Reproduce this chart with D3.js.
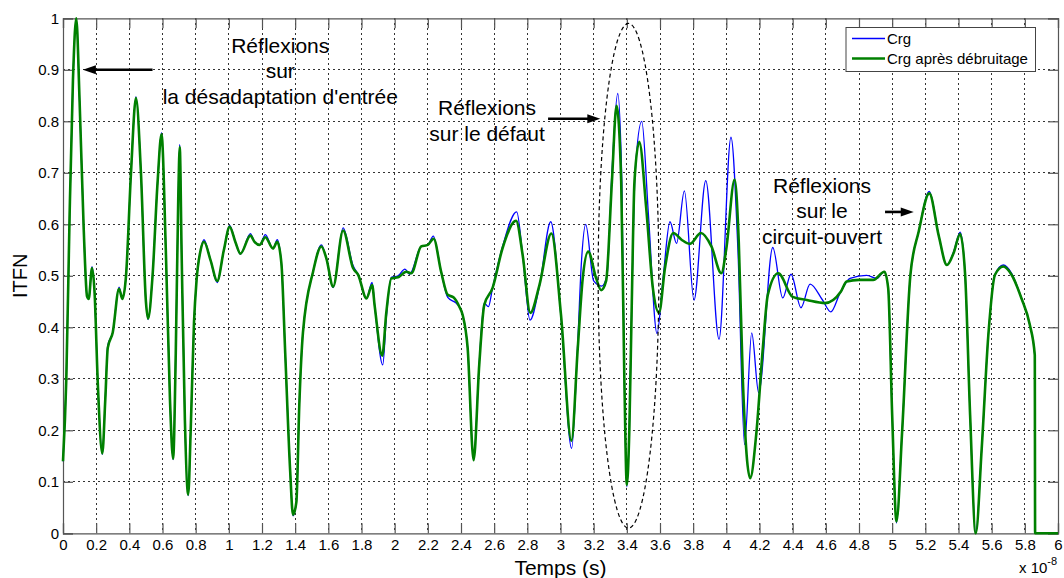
<!DOCTYPE html>
<html>
<head>
<meta charset="utf-8">
<script src="https://cdn.jsdelivr.net/npm/d3@7"></script>
<style>
  body { margin: 0; background: #fff; }
  svg { display: block; font-family: "Liberation Sans", Arial, sans-serif; }
</style>
</head>
<body>
<svg id="chart" width="1064" height="578"></svg>
<script>
// time in units of 1e-8 s, ITFN value
var crgDenoised = [
  [0, 0.14], [0.02, 0.30], [0.04, 0.62], [0.06, 0.88], [0.08, 1.0], [0.10, 0.84],
  [0.125, 0.59], [0.145, 0.46], [0.155, 0.455], [0.175, 0.515], [0.19, 0.47], [0.21, 0.29],
  [0.237, 0.155], [0.255, 0.26], [0.27, 0.36], [0.30, 0.39], [0.338, 0.475], [0.358, 0.455],
  [0.38, 0.50], [0.41, 0.70], [0.44, 0.845], [0.47, 0.70], [0.50, 0.45], [0.513, 0.417],
  [0.54, 0.50], [0.57, 0.68], [0.594, 0.775], [0.62, 0.55], [0.645, 0.26], [0.664, 0.145],
  [0.68, 0.35], [0.695, 0.65], [0.704, 0.75], [0.715, 0.55], [0.735, 0.22], [0.755, 0.075],
  [0.77, 0.20], [0.79, 0.41], [0.805, 0.49], [0.83, 0.55], [0.85, 0.566], [0.89, 0.53],
  [0.93, 0.49], [0.97, 0.55], [1.005, 0.595], [1.04, 0.565], [1.07, 0.543], [1.13, 0.578],
  [1.155, 0.566], [1.186, 0.56], [1.22, 0.575], [1.266, 0.553], [1.292, 0.566], [1.317, 0.524],
  [1.34, 0.35], [1.37, 0.12], [1.387, 0.036], [1.407, 0.06], [1.425, 0.25], [1.447, 0.39],
  [1.508, 0.508], [1.558, 0.557], [1.588, 0.534], [1.629, 0.479], [1.689, 0.588], [1.749, 0.515],
  [1.78, 0.502], [1.83, 0.456], [1.864, 0.482], [1.88, 0.44], [1.925, 0.345], [1.95, 0.43],
  [1.98, 0.495], [2.02, 0.497], [2.07, 0.508], [2.10, 0.505], [2.16, 0.557], [2.20, 0.56],
  [2.235, 0.572], [2.28, 0.508], [2.32, 0.463], [2.356, 0.458], [2.39, 0.44], [2.41, 0.424],
  [2.44, 0.36], [2.476, 0.142], [2.51, 0.327], [2.54, 0.443], [2.59, 0.476], [2.65, 0.553],
  [2.732, 0.607], [2.772, 0.54], [2.818, 0.428], [2.873, 0.482], [2.945, 0.582], [3.003, 0.424],
  [3.066, 0.18], [3.104, 0.359], [3.134, 0.495], [3.167, 0.547], [3.215, 0.495], [3.245, 0.472],
  [3.275, 0.49], [3.31, 0.683], [3.338, 0.83], [3.366, 0.683], [3.385, 0.30], [3.40, 0.094],
  [3.415, 0.20], [3.43, 0.45], [3.446, 0.683], [3.475, 0.76], [3.517, 0.631], [3.557, 0.476],
  [3.594, 0.428], [3.63, 0.515], [3.68, 0.583], [3.73, 0.57], [3.78, 0.562], [3.847, 0.583],
  [3.91, 0.557], [3.97, 0.505], [4.0, 0.553], [4.05, 0.687], [4.075, 0.566], [4.10, 0.294],
  [4.144, 0.107], [4.18, 0.191], [4.22, 0.359], [4.25, 0.463], [4.313, 0.505], [4.40, 0.459],
  [4.485, 0.453], [4.595, 0.447], [4.69, 0.469], [4.726, 0.489], [4.80, 0.492], [4.886, 0.492],
  [4.953, 0.508], [4.976, 0.476], [5.0, 0.23], [5.026, 0.023], [5.06, 0.197], [5.11, 0.502],
  [5.16, 0.586], [5.224, 0.66], [5.28, 0.579], [5.33, 0.521], [5.37, 0.544], [5.41, 0.581],
  [5.44, 0.502], [5.47, 0.23], [5.504, 0.0], [5.54, 0.165], [5.58, 0.385], [5.62, 0.502],
  [5.67, 0.518], [5.72, 0.502], [5.78, 0.456], [5.83, 0.405], [5.86, 0.346], [5.862, 0.0],
  [6.0, 0.0]
]

var crgRaw = [
  [0, 0.14], [0.02, 0.30], [0.04, 0.62], [0.06, 0.88], [0.08, 1.0], [0.10, 0.84],
  [0.125, 0.59], [0.145, 0.46], [0.155, 0.455], [0.175, 0.518], [0.19, 0.47], [0.21, 0.29],
  [0.237, 0.153], [0.255, 0.26], [0.27, 0.365], [0.30, 0.39], [0.338, 0.478], [0.358, 0.455],
  [0.38, 0.50], [0.41, 0.70], [0.44, 0.848], [0.47, 0.70], [0.50, 0.45], [0.513, 0.415],
  [0.54, 0.50], [0.57, 0.68], [0.594, 0.778], [0.62, 0.55], [0.645, 0.26], [0.664, 0.143],
  [0.68, 0.35], [0.695, 0.65], [0.704, 0.755], [0.715, 0.55], [0.735, 0.22], [0.755, 0.073],
  [0.77, 0.20], [0.79, 0.41], [0.805, 0.49], [0.83, 0.55], [0.85, 0.57], [0.89, 0.53],
  [0.93, 0.487], [0.97, 0.55], [1.005, 0.598], [1.04, 0.565], [1.07, 0.542], [1.13, 0.582],
  [1.155, 0.566], [1.186, 0.56], [1.22, 0.58], [1.266, 0.553], [1.292, 0.57], [1.317, 0.524],
  [1.34, 0.35], [1.37, 0.12], [1.387, 0.034], [1.407, 0.06], [1.425, 0.25], [1.447, 0.39],
  [1.508, 0.508], [1.558, 0.56], [1.588, 0.534], [1.629, 0.477], [1.689, 0.593], [1.749, 0.52],
  [1.78, 0.502], [1.83, 0.456], [1.864, 0.487], [1.88, 0.44], [1.928, 0.327], [1.95, 0.42],
  [1.98, 0.497], [2.02, 0.5], [2.062, 0.513], [2.09, 0.503], [2.16, 0.557], [2.20, 0.56],
  [2.233, 0.577], [2.28, 0.508], [2.32, 0.458], [2.37, 0.447], [2.39, 0.44], [2.41, 0.424],
  [2.44, 0.36], [2.476, 0.142], [2.51, 0.33], [2.54, 0.447], [2.565, 0.44], [2.59, 0.476],
  [2.653, 0.56], [2.736, 0.624], [2.772, 0.54], [2.816, 0.414], [2.873, 0.48], [2.941, 0.605],
  [3.003, 0.42], [3.067, 0.165], [3.104, 0.37], [3.125, 0.52], [3.152, 0.6], [3.2, 0.49],
  [3.248, 0.48], [3.28, 0.5], [3.31, 0.7], [3.345, 0.854], [3.37, 0.68], [3.385, 0.30],
  [3.40, 0.09], [3.415, 0.20], [3.43, 0.45], [3.45, 0.70], [3.49, 0.80], [3.53, 0.62],
  [3.582, 0.388], [3.62, 0.50], [3.66, 0.605], [3.70, 0.563], [3.747, 0.665], [3.805, 0.453],
  [3.876, 0.685], [3.956, 0.377], [4.028, 0.769], [4.07, 0.55], [4.11, 0.172], [4.153, 0.389],
  [4.195, 0.273], [4.28, 0.555], [4.34, 0.457], [4.39, 0.503], [4.45, 0.438], [4.505, 0.484],
  [4.58, 0.453], [4.63, 0.43], [4.685, 0.466], [4.746, 0.495], [4.846, 0.501], [4.907, 0.495],
  [4.953, 0.508], [4.976, 0.476], [5.0, 0.23], [5.026, 0.02], [5.06, 0.197], [5.11, 0.502],
  [5.16, 0.586], [5.224, 0.664], [5.28, 0.579], [5.33, 0.521], [5.37, 0.546], [5.41, 0.585],
  [5.44, 0.502], [5.47, 0.23], [5.504, 0.0], [5.54, 0.165], [5.58, 0.385], [5.62, 0.502],
  [5.67, 0.521], [5.72, 0.505], [5.78, 0.456], [5.83, 0.405], [5.86, 0.346], [5.862, 0.0],
  [6.0, 0.0]
]

var xTicks = d3.range(0, 31).map(function(i) { return i * 0.2 })
var yTicks = d3.range(0, 11).map(function(i) { return i / 10 })
var seriesNames = ['Crg', 'Crg après débruitage']
var seriesColors = ['#0000ff', '#008000']

var plotLeft = 63, plotRight = 1058, plotTop = 18.3, plotBottom = 533.3
var svg = d3.select('#chart')

var x = d3.scaleLinear().domain([0, 6]).range([plotLeft, plotRight])
var y = d3.scaleLinear().domain([0, 1]).range([plotBottom, plotTop])

var fmt = function(d) { return String(+d.toFixed(1)) }

// grid
var grid = svg.append('g')
grid.selectAll('line.vx')
  .data(xTicks.slice(1, -1))
  .enter().append('line')
  .attr('x1', function(d) { return x(d) }).attr('x2', function(d) { return x(d) })
  .attr('y1', plotTop).attr('y2', plotBottom)
grid.selectAll('line.hy')
  .data(yTicks.slice(1, -1))
  .enter().append('line')
  .attr('x1', plotLeft).attr('x2', plotRight)
  .attr('y1', function(d) { return y(d) }).attr('y2', function(d) { return y(d) })
grid.selectAll('line')
  .attr('stroke', '#333')
  .attr('stroke-width', 1)
  .attr('stroke-dasharray', '2,3')
  .attr('shape-rendering', 'crispEdges')

// axes (ticks inside, box on)
var tickLen = 10
var xAxisB = svg.append('g').attr('transform', 'translate(0,' + plotBottom + ')')
  .call(d3.axisBottom(x).tickValues(xTicks).tickSize(-tickLen).tickPadding(6).tickFormat(fmt))
var xAxisT = svg.append('g').attr('transform', 'translate(0,' + plotTop + ')')
  .call(d3.axisTop(x).tickValues(xTicks).tickSize(-tickLen).tickFormat(''))
var yAxisL = svg.append('g').attr('transform', 'translate(' + plotLeft + ',0)')
  .call(d3.axisLeft(y).tickValues(yTicks).tickSize(-tickLen).tickPadding(4).tickFormat(fmt))
var yAxisR = svg.append('g').attr('transform', 'translate(' + plotRight + ',0)')
  .call(d3.axisRight(y).tickValues(yTicks).tickSize(-tickLen).tickFormat(''))

var axes = [xAxisB, xAxisT, yAxisL, yAxisR]
axes.forEach(function(a) {
  a.selectAll('path.domain').attr('stroke', '#555').attr('stroke-width', 1.2)
  a.selectAll('.tick line').attr('stroke', '#555').attr('stroke-width', 1.2)
  a.selectAll('.tick text').attr('fill', '#000').attr('font-size', 15)
    .attr('font-family', '"Liberation Sans", Arial, sans-serif')
})

// series
var line = d3.line()
  .x(function(d) { return x(d[0]) })
  .y(function(d) { return y(d[1]) })
  .curve(d3.curveMonotoneX)

var plot = svg.append('g')
plot.append('path').datum(crgRaw)
  .attr('fill', 'none').attr('stroke', seriesColors[0]).attr('stroke-width', 1.3)
  .attr('d', line)
plot.append('path').datum(crgDenoised)
  .attr('fill', 'none').attr('stroke', seriesColors[1]).attr('stroke-width', 2.6)
  .attr('stroke-linejoin', 'round')
  .attr('d', line)

// dashed ellipse round the fault reflections
svg.append('ellipse')
  .attr('cx', x(3.41)).attr('cy', y(0.5))
  .attr('rx', x(3.41) - x(3.227)).attr('ry', y(0.5) - y(0.99))
  .attr('fill', 'none').attr('stroke', '#000').attr('stroke-width', 1.2)
  .attr('stroke-dasharray', '4,3')

// annotations
var notes = [
  { x: 1.31, y: 0.933, lines: ['Réflexions', 'sur', 'la désadaptation d\'entrée'] },
  { x: 2.557, y: 0.812, lines: ['Réflexions', 'sur le défaut'] },
  { x: 4.577, y: 0.661, lines: ['Réflexions', 'sur le', 'circuit-ouvert'] }
]
notes.forEach(function(n) {
  var t = svg.append('text')
    .attr('text-anchor', 'middle')
    .attr('font-size', 21)
    .attr('fill', '#000')
  n.lines.forEach(function(s, i) {
    t.append('tspan').attr('x', x(n.x)).attr('y', y(n.y) + i * 25.5).text(s)
  })
})

var arrows = [
  { x1: 0.54, x2: 0.12, y: 0.9 },
  { x1: 2.925, x2: 3.24, y: 0.805 },
  { x1: 4.957, x2: 5.13, y: 0.624 }
]
arrows.forEach(function(a) {
  var dir = a.x2 > a.x1 ? 1 : -1
  var tipX = x(a.x2), py = y(a.y)
  svg.append('line')
    .attr('x1', x(a.x1)).attr('x2', tipX - dir * 8)
    .attr('y1', py).attr('y2', py)
    .attr('stroke', '#000').attr('stroke-width', 2.6)
  svg.append('path')
    .attr('d', 'M' + tipX + ',' + py + 'L' + (tipX - dir * 13) + ',' + (py - 4.5) +
      'L' + (tipX - dir * 13) + ',' + (py + 4.5) + 'Z')
    .attr('fill', '#000')
})

// axis labels
svg.append('text')
  .attr('x', (plotLeft + plotRight) / 2).attr('y', 575)
  .attr('text-anchor', 'middle').attr('font-size', 21)
  .text('Temps (s)')
svg.append('text')
  .attr('transform', 'translate(27,' + ((plotTop + plotBottom) / 2) + ') rotate(-90)')
  .attr('text-anchor', 'middle').attr('font-size', 20)
  .text('ITFN')
var expo = svg.append('text')
  .attr('x', 1019).attr('y', 573).attr('font-size', 15)
expo.append('tspan').text('x 10')
expo.append('tspan').attr('dy', -8).attr('font-size', 11).text('-8')

// legend
var legend = svg.append('g')
legend.append('rect')
  .attr('x', 846).attr('y', 27.5).attr('width', 189.5).attr('height', 44)
  .attr('fill', '#fff').attr('stroke', '#444').attr('stroke-width', 1)
seriesNames.forEach(function(name, i) {
  var ly = 38.5 + i * 20
  legend.append('line')
    .attr('x1', 852).attr('x2', 885).attr('y1', ly).attr('y2', ly)
    .attr('stroke', seriesColors[i]).attr('stroke-width', i === 0 ? 1.3 : 2.6)
  legend.append('text')
    .attr('x', 887).attr('y', ly + 5.5).attr('font-size', 15)
    .text(name)
})
</script>
</body>
</html>
